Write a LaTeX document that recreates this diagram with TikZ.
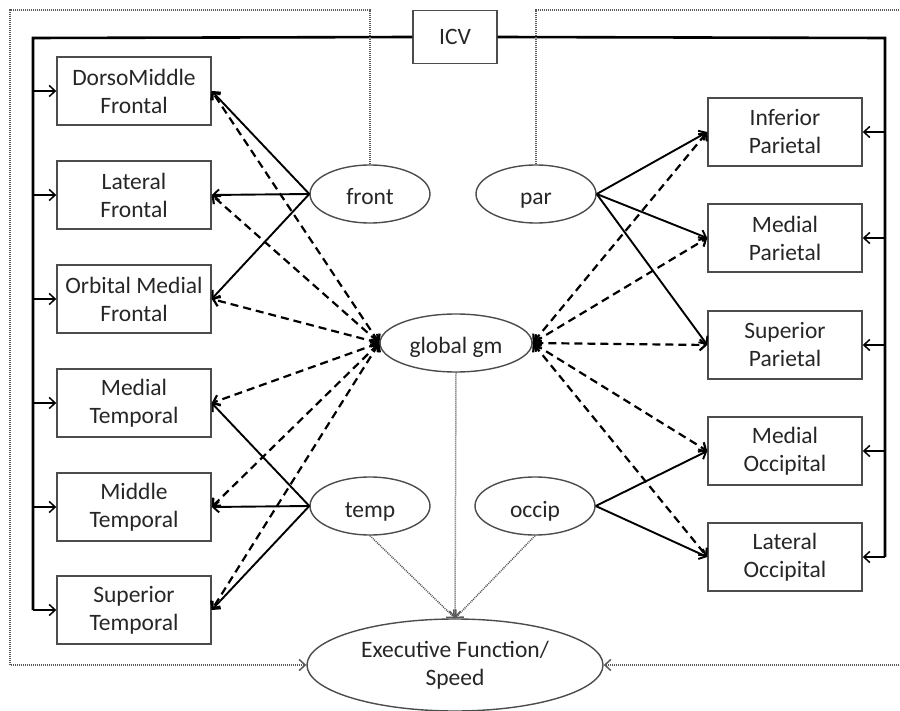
\documentclass[tikz,border=0pt]{standalone}
\usepackage{fontspec}
\setmainfont{Carlito}
\usetikzlibrary{shapes.geometric, arrows.meta, positioning}

\begin{document}
\begin{tikzpicture}[
    x=1pt, y=-1pt,
    region/.style={rectangle, draw=black!70, line width=1.4pt, minimum width=154pt, minimum height=68pt, align=center, inner sep=2pt, text=black!85, font=\fontsize{23.5}{28}\selectfont},
    factor/.style={ellipse, draw=black!70, line width=1.4pt, minimum width=120pt, minimum height=58pt, inner sep=0pt, text height=22pt, text depth=0pt, text=black!85, font=\fontsize{23.5}{28}\selectfont},
    trunk/.style={line width=2.6pt},
    branch/.style={->, line width=1.5pt},
    loading/.style={->, line width=1.9pt},
    shared/.style={<->, line width=2.2pt, dash pattern=on 8pt off 5pt},
    effect/.style={->, line width=1.5pt, black!65, dash pattern=on 1pt off 1pt},
    >={Straight Barb[length=6pt, width=11pt]}
]
\useasboundingbox (0,0) rectangle (900,711);

% ICV
\node[region, minimum width=84pt, minimum height=53pt] (icv) at (455,37) {ICV};

% Left regions
\node[region] (dmf) at (134,91) {DorsoMiddle\\Frontal};
\node[region] (lf) at (134,195) {Lateral\\Frontal};
\node[region] (omf) at (134,299) {Orbital Medial\\Frontal};
\node[region] (mt) at (134,403) {Medial\\Temporal};
\node[region] (mdt) at (134,507) {Middle\\Temporal};
\node[region] (st) at (134,610) {Superior\\Temporal};

% Right regions
\node[region] (ip) at (785,132) {Inferior\\Parietal};
\node[region] (mp) at (785,238) {Medial\\Parietal};
\node[region] (sp) at (785,345) {Superior\\Parietal};
\node[region] (mo) at (785,451) {Medial\\Occipital};
\node[region] (lo) at (785,557) {Lateral\\Occipital};

% Factors
\node[factor] (front) at (370,194) {front};
\node[factor] (par) at (536,194) {par};
\node[factor, minimum width=152pt] (gm) at (456,343) {global gm};
\node[factor] (temp) at (370,506) {temp};
\node[factor] (occip) at (535,506) {occip};
\node[factor, minimum width=296pt, minimum height=92pt, align=center, text height=, text depth=] (ef) at (455,665) {Executive Function/\\Speed};

% ICV to regions
\coordinate (lbus) at (33,38);
\coordinate (rbus) at (885,38);
\draw[trunk] (lbus |- st.west) -- (lbus) -- (icv.west);
\draw[trunk] (icv.east) -- (rbus) -- (rbus |- lo.east);
\foreach \r in {dmf, lf, omf, mt, mdt, st}
  \draw[branch] (lbus |- \r.west) -- (\r.west);
\foreach \r in {ip, mp, sp, mo, lo}
  \draw[branch] (rbus |- \r.east) -- (\r.east);

% Lobar factors
\foreach \r in {dmf, lf, omf}
  \draw[loading] (front.west) -- (\r.east);
\foreach \r in {mt, mdt, st}
  \draw[loading] (temp.west) -- (\r.east);
\foreach \r in {ip, mp, sp}
  \draw[loading] (par.east) -- (\r.west);
\foreach \r in {mo, lo}
  \draw[loading] (occip.east) -- (\r.west);

% Global factor
\foreach \r in {dmf, lf, omf, mt, mdt, st}
  \draw[shared] (gm.west) -- (\r.east);
\foreach \r in {ip, mp, sp, mo, lo}
  \draw[shared] (gm.east) -- (\r.west);

% Paths to outcome
\coordinate (ltop) at (10,10);
\coordinate (rtop) at (905,10);
\draw[effect] (gm.south) -- (ef.north);
\draw[effect] (temp.south) -- (ef.north);
\draw[effect] (occip.south) -- (ef.north);
\draw[effect] (front.north) |- (ltop) |- (ef.west);
\draw[effect] (par.north) |- (rtop) |- (ef.east);

\end{tikzpicture}
\end{document}
